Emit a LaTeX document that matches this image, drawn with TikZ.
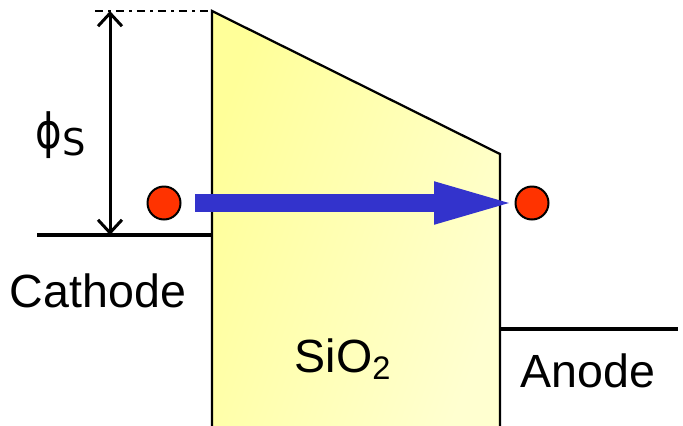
\documentclass[tikz,border=0pt]{standalone}
\usepackage{fontspec}
\setmainfont{Liberation Sans}
\newfontfamily\greekfont{DejaVu Sans}
\definecolor{oxideyellow}{RGB}{255,255,153}
\definecolor{oxidelight}{RGB}{255,255,208}
\definecolor{electronred}{RGB}{255,51,0}
\definecolor{flowblue}{RGB}{51,51,204}
\usetikzlibrary{arrows.meta, positioning}

\begin{document}
\begin{tikzpicture}[x=0.02cm, y=-0.02cm,
  electron/.style={circle, draw=black, line width=0.04cm, fill=electronred, minimum size=0.66cm, inner sep=0pt},
  bandlabel/.style={font=\fontsize{26.5}{30}\selectfont, inner sep=0pt, anchor=base}]
  \useasboundingbox (0,0) rectangle (683,426);
  % oxide barrier
  \shade[left color=oxideyellow, right color=oxidelight, shading angle=70] (212,11) -- (500,154) -- (500,426) -- (212,426) -- cycle;
  \draw[line width=0.045cm] (212,426) -- (212,11) -- (500,154) -- (500,426);
  % electrode levels
  \coordinate (cathL) at (37,235);
  \coordinate (cathR) at (212,235);
  \coordinate (anodL) at (500,329);
  \coordinate (anodR) at (678,329);
  \draw[line width=0.065cm] (cathL) -- (cathR);
  \draw[line width=0.065cm] (anodL) -- (anodR);
  % barrier height
  \coordinate (barTop) at (110,11);
  \coordinate (barBot) at (110,235);
  \draw[line width=0.04cm, dash pattern=on 0.17cm off 0.1cm on 0.05cm off 0.1cm] (95,11) -- (212,11);
  \draw[{Straight Barb[length=0.26cm, width=0.48cm]}-{Straight Barb[length=0.26cm, width=0.48cm]}, line width=0.06cm] (barTop) -- (barBot);
  \node[font=\fontsize{23}{26}\selectfont, inner sep=0pt] (phiS) at (61,135) {\greekfont\scalebox{1}[1.2]{ϕ}\raisebox{-0.3ex}{\fontsize{21}{24}\selectfont S}};
  % electrons and flow
  \node[electron] (eIn) at (164,203) {};
  \node[electron] (eOut) at (532,203) {};
  \coordinate (flowA) at (195,203);
  \coordinate (flowB) at (519,203);
  \draw[flowblue, line width=0.36cm, -{Triangle[length=1.7cm, width=0.74cm]}] (flowA) -- (flowB);
  % labels
  \node[bandlabel] (cathode) at (98,307) {Cathode};
  \node[bandlabel] (oxide) at (343,372) {SiO\textsubscript{2}};
  \node[bandlabel] (anode) at (588,387) {Anode};
\end{tikzpicture}
\end{document}
